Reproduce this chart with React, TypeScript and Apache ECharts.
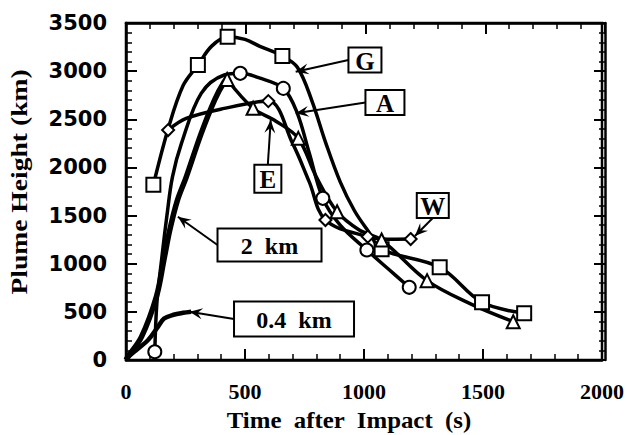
import React, { useEffect, useRef } from "react";
import * as echarts from "echarts";

// ---- axis ranges / ticks ----
const xTickStep = 500;
const xMax = 2000;
const yTickStep = 500;
const yMax = 3500;

// ---- fragment G (squares) ----
const gMarkers = [[115, 1820], [302, 3063], [427, 3357], [657, 3157], [1074, 1149], [1318, 963], [1496, 599], [1673, 485]];
const gCurve = [[115, 1820], [177, 2400], [240, 2850], [302, 3063], [360, 3260], [427, 3357], [500, 3330], [560, 3260], [657, 3157], [720, 3040], [780, 2700], [840, 2250], [900, 1850], [960, 1550], [1020, 1330], [1074, 1149], [1318, 963], [1496, 599], [1673, 485]];

// ---- fragment A (circles) ----
const aMarkers = [[121, 86], [480, 2977], [661, 2821], [827, 1679], [1012, 1142], [1190, 755]];
const aCurve = [[121, 86], [130, 600], [150, 1050], [172, 1500], [195, 1900], [233, 2250], [316, 2769], [413, 2960], [480, 2977], [560, 2930], [661, 2821], [718, 2575], [770, 2150], [827, 1679], [900, 1400], [1012, 1142], [1100, 950], [1190, 755]];

// ---- fragment E (triangles) ----
const eMarkers = [[425, 2913], [534, 2614], [724, 2302], [887, 1540], [1074, 1246], [1265, 824], [1627, 398]];
const eCurve = [[425, 2913], [534, 2614], [630, 2480], [724, 2302], [800, 1900], [887, 1540], [980, 1350], [1074, 1246], [1265, 824], [1450, 580], [1627, 398]];

// ---- fragment W (diamonds) ----
const wMarkers = [[177, 2388], [598, 2689], [838, 1454], [1016, 1281], [1196, 1256]];
const wCurve = [[177, 2388], [253, 2509], [413, 2613], [598, 2689], [700, 2250], [770, 1850], [838, 1454], [1016, 1281], [1100, 1255], [1196, 1256]];

// ---- model curves ----
const km2Curve = [[0, 0], [10, 40], [65, 240], [128, 660], [160, 1050], [184, 1350], [215, 1650], [253, 1900], [316, 2354], [372, 2700], [413, 2890], [425, 2913]];
const km04Curve = [[0, 0], [10, 35], [93, 208], [130, 330], [160, 430], [200, 470], [240, 490], [274, 502]];

// ---- annotation labels (box centre, arrow tip in data units) ----
const annoText = ["G", "A", "E", "W", "2  km", "0.4  km"];
const annoBox = [[1004, 3115], [1088, 2674], [596, 1882], [1289, 1604], [603, 1194], [706, 426]];
const annoTip = [[713, 2994], [713, 2562], [608, 2492], [1214, 1288], [218, 1488], [267, 502]];
const annoSide = ["left", "left", "top", "bottom", "left", "left"];

const BOX_W = [33, 39, 27, 32, 104, 120];
const BOX_H = [25, 25, 28, 25, 33, 35];
const BOX_FONT = [25, 25, 25, 25, 24, 24];

const black = "#000";

function axisCommon(show: boolean) {
  return {
    show: true,
    axisLine: { show: true, onZero: false, lineStyle: { color: black, width: 2.5 } },
    axisTick: { show: true, inside: true, length: 11, lineStyle: { color: black, width: 2 } },
    minorTick: { show: true, splitNumber: 5, length: 6, lineStyle: { color: black, width: 1.5 } },
    splitLine: { show: false },
    minorSplitLine: { show: false },
    axisLabel: { show },
  };
}

function arrowHead(tip: number[], from: number[]) {
  const dx = tip[0] - from[0];
  const dy = tip[1] - from[1];
  const L = Math.hypot(dx, dy) || 1;
  const ux = dx / L, uy = dy / L;
  const px = -uy, py = ux;
  const len = 13, half = 5.5, notch = 8;
  return [
    [tip[0], tip[1]],
    [tip[0] - ux * len + px * half, tip[1] - uy * len + py * half],
    [tip[0] - ux * notch, tip[1] - uy * notch],
    [tip[0] - ux * len - px * half, tip[1] - uy * len - py * half],
  ];
}

export default function App() {
  const ref = useRef<HTMLDivElement>(null);
  useEffect(() => {
    if (!ref.current) return;
    const chart = echarts.init(ref.current, null, { renderer: "svg" });
    const lineSeries = (data: number[][], width: number) => ({
      type: "line",
      data,
      smooth: 0.35,
      showSymbol: false,
      symbol: "none",
      lineStyle: { color: black, width },
      z: 2,
      silent: true,
    });
    const markSeries = (data: number[][], symbol: string, size: number) => ({
      type: "scatter",
      data,
      symbol,
      symbolSize: size,
      itemStyle: { color: "#fff", borderColor: black, borderWidth: 2, opacity: 1 },
      z: 4,
      silent: true,
    });
    const gridBox = { left: 126, right: 22, top: 23, bottom: 75, containLabel: false };
    chart.setOption({
      animation: false,
      backgroundColor: "#fff",
      grid: [
        { ...gridBox, show: true, borderColor: black, borderWidth: 2.5, backgroundColor: "transparent" },
        { ...gridBox },
      ],
      xAxis: [
        {
          type: "value", min: 0, max: xMax, interval: xTickStep, position: "bottom", gridIndex: 0,
          ...axisCommon(true),
          axisLabel: {
            show: true, margin: 20, color: black, fontFamily: "Liberation Serif",
            fontWeight: "bold", fontSize: 22, formatter: (v: number) => String(v),
          },
        },
        { type: "value", min: 0, max: xMax, interval: xTickStep, position: "top", gridIndex: 1, ...axisCommon(false) },
      ],
      yAxis: [
        {
          type: "value", min: 0, max: yMax, interval: yTickStep, position: "left", gridIndex: 0,
          ...axisCommon(true),
          axisLabel: {
            show: true, margin: 19, color: black, fontFamily: "DejaVu Sans",
            fontWeight: "bold", fontSize: 21, formatter: (v: number) => String(v),
          },
        },
        { type: "value", min: 0, max: yMax, interval: yTickStep, position: "right", gridIndex: 1, ...axisCommon(false) },
      ],
      series: [
        lineSeries(km2Curve, 5.5),
        lineSeries(km04Curve, 4.5),
        lineSeries(gCurve, 3.5),
        lineSeries(aCurve, 3.5),
        lineSeries(eCurve, 3.5),
        lineSeries(wCurve, 3.5),
        markSeries(gMarkers, "rect", 14),
        markSeries(aMarkers, "circle", 13),
        markSeries(eMarkers, "triangle", 13),
        markSeries(wMarkers, "diamond", 12),
        {
          type: "line", data: [[0, 0]], xAxisIndex: 1, yAxisIndex: 1, silent: true,
          symbol: "none", lineStyle: { opacity: 0 },
        },
      ],
    });

    const graphics: any[] = [];
    for (let i = 0; i < annoText.length; i++) {
      const c = chart.convertToPixel({ gridIndex: 0 }, annoBox[i]) as number[];
      const tip = chart.convertToPixel({ gridIndex: 0 }, annoTip[i]) as number[];
      const w = BOX_W[i], h = BOX_H[i];
      let from: number[];
      if (annoSide[i] === "left") from = [c[0] - w / 2, c[1]];
      else if (annoSide[i] === "top") from = [c[0], c[1] - h / 2];
      else from = [c[0], c[1] + h / 2];
      graphics.push({
        type: "line", silent: true, z: 10,
        shape: { x1: from[0], y1: from[1], x2: tip[0], y2: tip[1] },
        style: { stroke: black, lineWidth: 2 },
      });
      graphics.push({
        type: "polygon", silent: true, z: 10,
        shape: { points: arrowHead(tip, from) },
        style: { fill: black },
      });
      graphics.push({
        type: "rect", silent: true, z: 11,
        shape: { x: c[0] - w / 2, y: c[1] - h / 2, width: w, height: h },
        style: { fill: "#fff", stroke: black, lineWidth: 2 },
      });
      graphics.push({
        type: "text", silent: true, z: 12,
        x: c[0], y: c[1] + 1,
        style: {
          text: annoText[i], fill: black, fontFamily: "Liberation Serif", fontWeight: "bold",
          fontSize: BOX_FONT[i], align: "center", verticalAlign: "middle",
        },
      });
    }
    // axis titles
    graphics.push({
      type: "text", silent: true, x: 349, y: 420, scaleX: 1.08,
      style: {
        text: "Time  after  Impact  (s)", fill: black, fontFamily: "Liberation Serif",
        fontWeight: "bold", fontSize: 23, align: "center", verticalAlign: "middle",
      },
    });
    graphics.push({
      type: "text", silent: true, x: 19, y: 182, rotation: Math.PI / 2, scaleX: 1.2,
      style: {
        text: "Plume Height (km)", fill: black, fontFamily: "Liberation Serif",
        fontWeight: "bold", fontSize: 23, align: "center", verticalAlign: "middle",
      },
    });
    chart.setOption({ graphic: graphics });
    return () => chart.dispose();
  }, []);
  return (
    <div
      ref={ref}
      style={{ position: "absolute", left: 0, top: 0, width: 627, height: 435, background: "#fff" }}
    />
  );
}
